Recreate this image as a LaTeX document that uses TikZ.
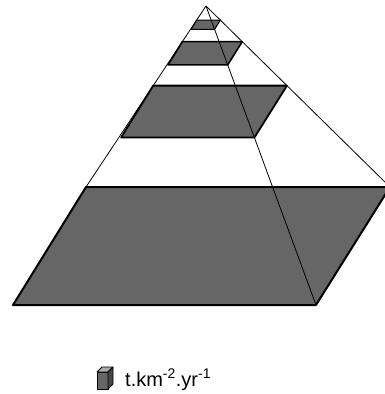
\documentclass[tikz,border=0pt]{standalone}
\usepackage{fontspec}
\setsansfont{Liberation Sans}
\usetikzlibrary{calc}

\begin{document}
\begin{tikzpicture}[x=1pt, y=-1pt, font=\sffamily,
    layer/.style={fill=slab, draw=black, line join=round},
    ridge/.style={draw=black, line width=0.8pt},
    cubeface/.style={draw=black, line width=0.8pt, line join=round}]

    % --- DEFINITIONS ---
    \definecolor{slab}{RGB}{102, 102, 102}
    \useasboundingbox (0,0) rectangle (384,394);

    % Apex and corners of the base
    \coordinate (apex) at (206,6);
    \coordinate (bTL) at (86,187);
    \coordinate (bTR) at (390,187);
    \coordinate (bBR) at (316,305);
    \coordinate (bBL) at (13,305);

    % --- LAYERS (scaled copies of the base towards the apex) ---
    \foreach \s/\w in {0.078/1.0, 0.197/1.6, 0.44/1.8, 1/2.0}
        \filldraw[layer, line width=\w pt]
            ($(apex)!\s!(bTL)$) -- ($(apex)!\s!(bTR)$)
            -- ($(apex)!\s!(bBR)$) -- ($(apex)!\s!(bBL)$) -- cycle;

    % --- EDGES OF THE PYRAMID ---
    \draw[ridge] (apex) -- (bTL);
    \draw[ridge] (apex) -- (bTR);
    \draw[ridge] (apex) -- (bBR);

    % --- LEGEND ---
    \filldraw[cubeface, fill=slab] (97,372) rectangle (108,389);
    \filldraw[cubeface, fill=slab!55] (97,372) -- (102,367) -- (113,367) -- (108,372) -- cycle;
    \filldraw[cubeface, fill=slab!70!black] (108,372) -- (113,367) -- (113,384) -- (108,389) -- cycle;
    \node[anchor=base west, inner sep=0pt, font=\sffamily\fontsize{20}{22}\selectfont] (unit) at (125,386)
        {t.km\textsuperscript{-2}.yr\textsuperscript{-1}};

\end{tikzpicture}
\end{document}
